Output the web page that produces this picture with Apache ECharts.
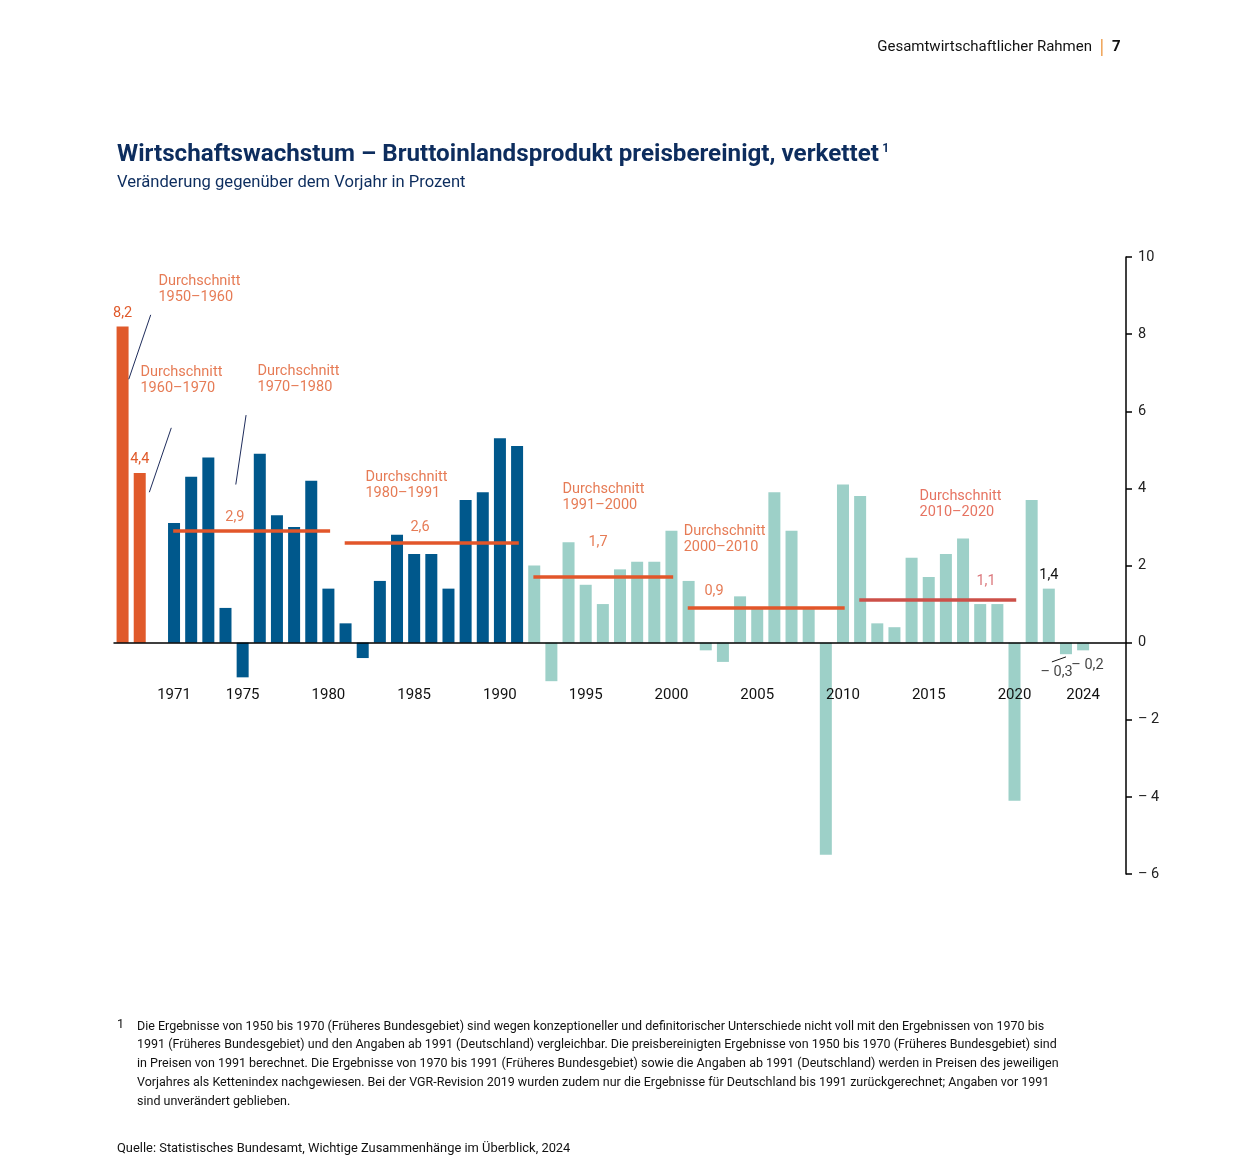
<!DOCTYPE html>
<html><head><meta charset="utf-8">
<script src="https://cdn.jsdelivr.net/npm/echarts@6/dist/echarts.min.js"></script>
<style>html,body{margin:0;padding:0;background:#fff}#c{width:1236px;height:1169px}</style>
</head><body><div id="c"></div>
<script>
// ---------- DATA ----------
const periodCats = ['1950–1960', '1960–1970'];
const periodVals = [8.2, 4.4];
const years = [1971,1972,1973,1974,1975,1976,1977,1978,1979,1980,
               1981,1982,1983,1984,1985,1986,1987,1988,1989,1990,
               1991,1992,1993,1994,1995,1996,1997,1998,1999,2000,
               2001,2002,2003,2004,2005,2006,2007,2008,2009,2010,
               2011,2012,2013,2014,2015,2016,2017,2018,2019,2020,
               2021,2022,2023,2024];
const growth = [3.1,4.3,4.8,0.9,-0.9,4.9,3.3,3.0,4.2,1.4,
                0.5,-0.4,1.6,2.8,2.3,2.3,1.4,3.7,3.9,5.3,
                5.1,2.0,-1.0,2.6,1.5,1.0,1.9,2.1,2.1,2.9,
                1.6,-0.2,-0.5,1.2,0.9,3.9,2.9,0.9,-5.5,4.1,
                3.8,0.5,0.4,2.2,1.7,2.3,2.7,1.0,1.0,-4.1,
                3.7,1.4,-0.3,-0.2];
const tickYears = [1971,1975,1980,1985,1990,1995,2000,2005,2010,2015,2020,2024];
const avgPeriods = ['1970–1980','1980–1991','1991–2000','2000–2010','2010–2020'];
const avgStart = [1971,1981,1992,2001,2011];
const avgEnd   = [1980,1991,2000,2010,2020];
const avgVals  = [2.9,2.6,1.7,0.9,1.1];
const lastWestYear = 1991;
const yMin = -6, yMax = 10, yStep = 2;

// ---------- helpers ----------
const fmt = v => (v < 0 ? '– ' : '') + Math.abs(v).toFixed(1).replace('.', ',');
const categories = [...periodCats, ' ', ...years.map(String), '  ', '   '];
const yearIndex = y => periodCats.length + 1 + years.indexOf(y);

const C_OR = '#e05a2b', C_BLUE = '#00588c', C_TEAL = '#9dd0c8', C_NAVY = '#1f2d5c', C_AVG5 = '#cc5049';

// grid geometry
const GRID = {left: 114, right: 110, top: 257, bottom: 295};
const plotH = 1169 - GRID.top - GRID.bottom;
const zeroOffset = plotH * (0 - yMin) / (yMax - yMin); // distance from grid bottom to zero line

// ---------- annotation layout (axis units) ----------
const durchLayout = [
  {t: 'Durchschnitt\n' + periodCats[0], p: [2.12, 9.55]},
  {t: 'Durchschnitt\n' + periodCats[1], p: [1.07, 7.21]},
  {t: 'Durchschnitt\n' + avgPeriods[0], p: [7.9, 7.23]},
  {t: 'Durchschnitt\n' + avgPeriods[1], p: [14.19, 4.49]},
  {t: 'Durchschnitt\n' + avgPeriods[2], p: [25.68, 4.18]},
  {t: 'Durchschnitt\n' + avgPeriods[3], p: [32.74, 3.09]},
  {t: 'Durchschnitt\n' + avgPeriods[4], p: [46.49, 4.0]}
];
const avgLabelPos = [[6.55, 3.26],[17.34, 2.98],[27.72, 2.61],[34.48, 1.34],[50.34, 1.58]];
const leaders = [
  [[1.64, 8.5],[0.36, 6.83]],
  [[2.84, 5.57],[1.56, 3.9]],
  [[7.2, 5.9],[6.6, 4.1]]
];
const negLabels = [
  {y: 2023, p: [54.45, -0.78]},
  {y: 2024, p: [56.25, -0.6]}
];
const negLeader = [[54.18, -0.5],[55.0, -0.37]];

// ---------- bar data ----------
const barData = [];
periodVals.forEach(v => barData.push({value: v, itemStyle: {color: C_OR},
  label: {show: true, position: 'top', distance: 6, color: C_OR, fontSize: 14.5, formatter: p => fmt(p.value)}}));
barData.push('-');
years.forEach((y, i) => {
  const it = {value: growth[i], itemStyle: {color: y <= lastWestYear ? C_BLUE : C_TEAL}};
  if (y === 2022) it.label = {show: true, position: 'top', distance: 6, color: '#111', fontSize: 14.5, formatter: p => fmt(p.value)};
  barData.push(it);
});
barData.push('-', '-');

const annData = durchLayout.map((d, i) => ({value: d.p, label: {formatter: d.t,
  color: i === 6 ? '#e0503a' : C_OR}}));
const avgLabData = avgVals.map((v, i) => ({value: avgLabelPos[i], label: {formatter: fmt(v),
  color: i === 4 ? '#d2555a' : C_OR}}));
const negData = negLabels.map(n => ({value: n.p, label: {formatter: fmt(growth[years.indexOf(n.y)])}}));

const chart = echarts.init(document.getElementById('c'), null, {renderer: 'canvas'});
const FONT = 'Roboto';
chart.setOption({
  animation: false,
  backgroundColor: '#fff',
  textStyle: {fontFamily: FONT},
  grid: Object.assign({containLabel: false}, GRID),
  xAxis: [{
    type: 'category', data: categories, z: 5,
    offset: -zeroOffset,
    axisLine: {onZero: false, lineStyle: {color: '#000', width: 1.5}},
    axisTick: {show: false},
    axisLabel: {interval: 0, margin: 45, fontSize: 15, color: '#111', fontFamily: FONT,
      formatter: v => tickYears.includes(Number(v)) ? v : ''},
    splitLine: {show: false}
  }, {
    type: 'value', min: -0.5, max: categories.length - 0.5, show: false
  }],
  yAxis: {
    type: 'value', position: 'right', min: yMin, max: yMax, interval: yStep,
    axisLine: {show: true, onZero: false, lineStyle: {color: '#000', width: 1.5}},
    axisTick: {show: true, inside: false, length: 6, lineStyle: {color: '#000', width: 1.5}},
    axisLabel: {margin: 12, fontSize: 14.5, color: '#222', fontFamily: FONT,
      formatter: v => (v < 0 ? '– ' + Math.abs(v) : String(v))},
    splitLine: {show: false}
  },
  series: [{
    type: 'bar', data: barData, barWidth: 12, z: 2, xAxisIndex: 0,
    label: {fontFamily: FONT}
  }, {
    type: 'lines', coordinateSystem: 'cartesian2d', xAxisIndex: 1, yAxisIndex: 0, z: 4,
    data: avgVals.map((v, i) => ({coords: [[yearIndex(avgStart[i]) - 0.05, v], [yearIndex(avgEnd[i]) + 0.1, v]],
      lineStyle: {color: i === 4 ? C_AVG5 : '#e2562a'}})),
    lineStyle: {width: 3.5, opacity: 1, cap: 'butt'}
  }, {
    type: 'lines', coordinateSystem: 'cartesian2d', xAxisIndex: 1, yAxisIndex: 0, z: 4,
    data: leaders.map(l => ({coords: l})),
    lineStyle: {width: 1, color: C_NAVY, opacity: 1}
  }, {
    type: 'lines', coordinateSystem: 'cartesian2d', xAxisIndex: 1, yAxisIndex: 0, z: 4,
    data: [{coords: negLeader}],
    lineStyle: {width: 1, color: '#111', opacity: 1}
  }, {
    type: 'scatter', xAxisIndex: 1, yAxisIndex: 0, z: 6, symbolSize: 1,
    itemStyle: {color: 'rgba(0,0,0,0)'}, silent: true,
    label: {show: true, position: [0, 0], align: 'left', verticalAlign: 'top',
      fontSize: 14.5, lineHeight: 16, fontFamily: FONT},
    data: annData
  }, {
    type: 'scatter', xAxisIndex: 1, yAxisIndex: 0, z: 6, symbolSize: 1,
    itemStyle: {color: 'rgba(0,0,0,0)'}, silent: true,
    label: {show: true, position: 'inside', fontSize: 14.5, fontFamily: FONT},
    data: avgLabData
  }, {
    type: 'scatter', xAxisIndex: 1, yAxisIndex: 0, z: 6, symbolSize: 1,
    itemStyle: {color: 'rgba(0,0,0,0)'}, silent: true,
    label: {show: true, position: 'inside', fontSize: 14.5, color: '#111', fontFamily: FONT},
    data: negData
  }],
  graphic: [
    {type: 'text', right: 1236 - 1092, top: 40, style: {text: 'Gesamtwirtschaftlicher Rahmen', font: '15px ' + FONT, fill: '#111'}},
    {type: 'rect', left: 1101, top: 39, shape: {width: 1.6, height: 17}, style: {fill: '#f0a860'}},
    {type: 'text', left: 1112, top: 40, style: {text: '7', font: 'bold 15px ' + FONT, fill: '#111'}},
    {type: 'text', left: 117, top: 143, style: {
      rich: {a: {font: 'bold 24.2px ' + FONT, fill: '#0d2d5e'}, s: {font: 'bold 12px ' + FONT, fill: '#0d2d5e', verticalAlign: 'top', padding: [0,0,12,0]}},
      text: '{a|Wirtschaftswachstum – Bruttoinlandsprodukt preisbereinigt, verkettet} {s|1}'}},
    {type: 'text', left: 117, top: 174, style: {text: 'Veränderung gegenüber dem Vorjahr in Prozent', font: '16.6px ' + FONT, fill: '#0d2d5e'}},
    {type: 'text', left: 117, top: 1018, style: {text: '1', font: '12.5px ' + FONT, fill: '#111'}},
    {type: 'text', left: 137, top: 1017, style: {font: '12.5px ' + FONT, fill: '#111', lineHeight: 18.9, text:
      'Die Ergebnisse von 1950 bis 1970 (Früheres Bundesgebiet) sind wegen konzeptioneller und definitorischer Unterschiede nicht voll mit den Ergebnissen von 1970 bis\n' +
      '1991 (Früheres Bundesgebiet) und den Angaben ab 1991 (Deutschland) vergleichbar. Die preisbereinigten Ergebnisse von 1950 bis 1970 (Früheres Bundesgebiet) sind\n' +
      'in Preisen von 1991 berechnet. Die Ergebnisse von 1970 bis 1991 (Früheres Bundesgebiet) sowie die Angaben ab 1991 (Deutschland) werden in Preisen des jeweiligen\n' +
      'Vorjahres als Kettenindex nachgewiesen. Bei der VGR-Revision 2019 wurden zudem nur die Ergebnisse für Deutschland bis 1991 zurückgerechnet; Angaben vor 1991\n' +
      'sind unverändert geblieben.'}},
    {type: 'text', left: 117, top: 1142, style: {text: 'Quelle: Statistisches Bundesamt, Wichtige Zusammenhänge im Überblick, 2024', font: '12.9px ' + FONT, fill: '#111'}}
  ]
});
</script>
</body></html>
